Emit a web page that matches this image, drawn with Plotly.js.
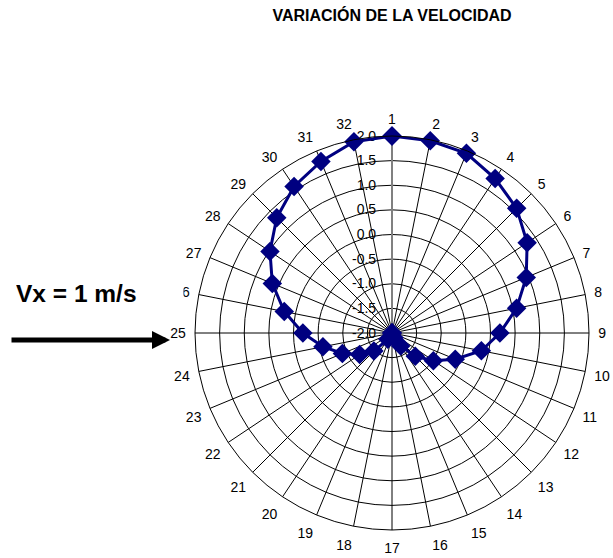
<!DOCTYPE html>
<html>
<head>
<meta charset="utf-8">
<script src="https://cdn.plot.ly/plotly-3.0.1.min.js"></script>
<style>html,body{margin:0;padding:0;background:#fff}#chart{width:613px;height:558px}</style>
</head>
<body>
<div id="chart"></div>
<script>
const categories = ["1","2","3","4","5","6","7","8","9","10","11","12","13","14","15","16",
                    "17","18","19","20","21","22","23","24","25","26","27","28","29","30","31","32"];
const velocity = [2.0, 1.98, 1.95, 1.77, 1.58, 1.30, 0.95, 0.58, 0.19, -0.15, -0.61, -0.99, -1.33, -1.68, -1.9, -2.0,
                  -2.0, -2.0, -2.0, -1.85, -1.48, -1.21, -0.91, -0.57, -0.19, 0.23, 0.63, 0.98, 1.31, 1.58, 1.77, 1.96];
const radialTicks = [-2.0, -1.5, -1.0, -0.5, 0.0, 0.5, 1.0, 1.5, 2.0];
const chartTitle = "VARIACIÓN DE LA VELOCIDAD";
const noteText = "Vx = 1 m/s";

const font = "Arial, 'Liberation Sans', sans-serif";
const W = 613, H = 558;
const cx = 392, cy = 333, R = 197;

const rClosed = velocity.concat([velocity[0]]);
const tClosed = categories.concat([categories[0]]);

const trace = {
  type: 'scatterpolar',
  r: rClosed,
  theta: tClosed,
  mode: 'lines+markers',
  line: {color: '#000080', width: 3},
  marker: {symbol: 'diamond', size: 15, color: '#000080'},
  showlegend: false,
  hoverinfo: 'skip'
};

const layout = {
  width: W, height: H,
  margin: {l: 0, r: 0, t: 0, b: 0},
  paper_bgcolor: '#fff',
  showlegend: false,
  title: {text: '<b>' + chartTitle + '</b>', x: 392 / W, xanchor: 'center', y: 1 - 15 / H, yanchor: 'middle',
          font: {family: font, size: 16, color: '#000'}},
  polar: {
    domain: {x: [(cx - R) / W, (cx + R) / W], y: [1 - (cy + R) / H, 1 - (cy - R) / H]},
    bgcolor: '#fff',
    angularaxis: {
      type: 'category', categoryorder: 'array', categoryarray: categories,
      direction: 'clockwise', rotation: 90,
      showline: true, linecolor: '#000', linewidth: 1,
      showgrid: true, gridcolor: '#000', gridwidth: 1,
      ticks: 'outside', ticklen: 6, tickcolor: 'rgba(0,0,0,0)',
      tickfont: {family: font, size: 14, color: '#000'}
    },
    radialaxis: {
      range: [-2, 2], tickmode: 'array', tickvals: radialTicks,
      ticktext: radialTicks.map(v => v.toFixed(1)),
      angle: 90, side: 'counterclockwise', tickangle: 90,
      showline: true, linecolor: '#808080', linewidth: 2,
      showgrid: true, gridcolor: '#000', gridwidth: 1,
      ticks: 'outside', ticklen: 10, tickcolor: 'rgba(0,0,0,0)',
      tickfont: {family: font, size: 14, color: '#000'},
      layer: 'below traces'
    }
  },
  annotations: [
    {
      xref: 'paper', yref: 'paper', x: 14 / W, y: 1 - 293 / H, xanchor: 'left', yanchor: 'middle',
      text: '<b>' + noteText + '</b>', showarrow: false, align: 'left', width: 166,
      bgcolor: '#fff', font: {family: font, size: 24.5, color: '#000'}
    },
    {
      xref: 'paper', yref: 'paper', x: 170 / W, y: 1 - 340 / H,
      axref: 'pixel', ayref: 'pixel', ax: -160, ay: 0,
      text: '', showarrow: true, arrowhead: 2, arrowsize: 0.72, arrowwidth: 5, arrowcolor: '#000'
    }
  ]
};

Plotly.newPlot('chart', [trace], layout, {displayModeBar: false, staticPlot: true});
</script>
</body>
</html>
